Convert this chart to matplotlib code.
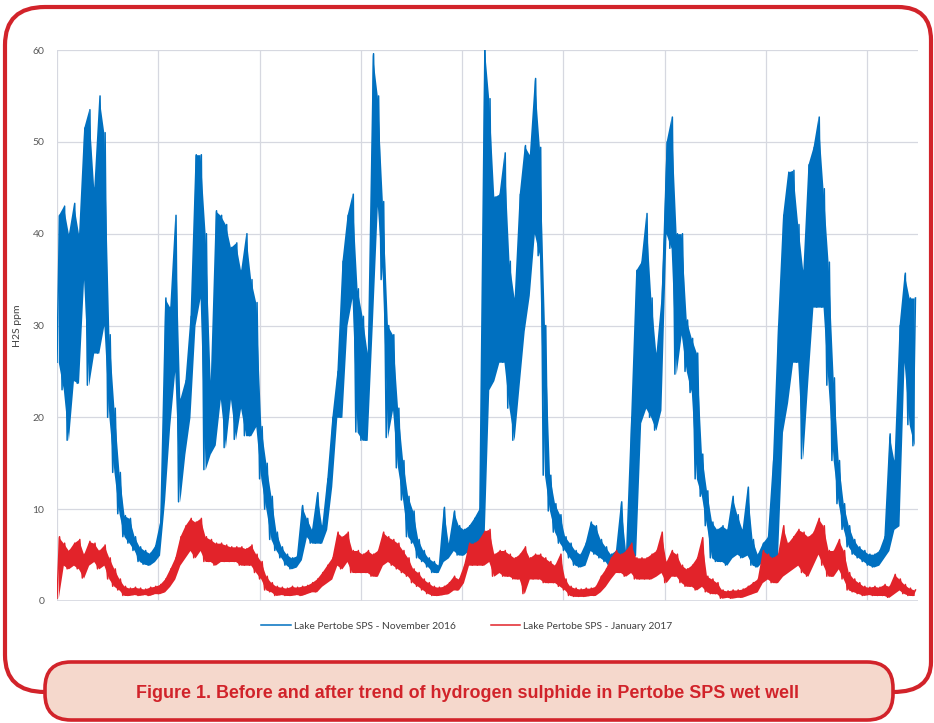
import numpy as np
import matplotlib
matplotlib.use("Agg")
import matplotlib.pyplot as plt
from matplotlib.path import Path
from matplotlib.patches import PathPatch, FancyBboxPatch
from matplotlib.transforms import Affine2D

# readings every 0.05 day: (low, high) of the noisy band
nov_low = [26, 23, 17.5, 24, 23.7, 35, 23.5, 27, 27, 30,
           20, 14, 9.5, 7, 6.3, 5.5, 4.3, 4, 3.9, 4.3,
           5, 11, 19, 25, 10.8, 16, 20, 30, 33, 14.3,
           16, 17, 22, 16.7, 22, 17.6, 21, 18, 18, 19,
           13.3, 10, 6.7, 5.5, 4.7, 3.9, 3.5, 3.7, 4.5, 7,
           6.3, 6.3, 6.3, 7.8, 12.5, 20, 20, 30, 33, 18.4,
           17.5, 17.5, 30, 43, 35, 17.8, 20.8, 14.5, 11, 7,
           6.3, 4.7, 4.3, 3.7, 3.1, 3.1, 4.3, 4.7, 5.5, 5,
           5, 5.5, 5.5, 5.5, 5.5, 23, 24, 26, 26, 21,
           17.5, 23.5, 29.4, 33.3, 40, 37.6, 13.7, 9.8, 7.5, 6.3,
           5.5, 4.7, 3.9, 3.7, 3.9, 5.5, 5.1, 4.7, 4.3, 3.5,
           3.9, 4.3, 3.9, 4.3, 5, 19.4, 21, 20, 18.6, 20.8,
           40, 38.4, 24.7, 29, 25, 22.7, 13.3, 11.4, 8.2, 4.7,
           4.3, 4.3, 3.9, 4.7, 5.1, 4.7, 5, 3.9, 3.7, 4.3,
           4.3, 4.3, 4.7, 18.4, 21.6, 26, 26, 15.5, 24, 32,
           32, 32, 23.5, 15.3, 10.6, 7.8, 5.9, 5.1, 4.7, 4.3,
           3.9, 3.7, 3.9, 4.7, 5.5, 7.8, 8.2, 26, 19.2, 16.9]
nov_high = [42, 43, 40, 43.3, 40, 51.5, 53.5, 45, 55, 51,
            29, 21, 14, 9.3, 9, 7, 5.9, 5.5, 5.2, 6,
            8.6, 33, 32, 42, 22, 24, 31, 48.6, 48.6, 40,
            24, 42.5, 42, 41, 38.5, 39, 36, 40, 35, 32.5,
            19, 15, 11.4, 7.5, 5.9, 5.1, 4.7, 4.9, 10.4, 9,
            7.8, 11.8, 8.2, 13.3, 20, 25, 37, 42, 44.3, 34,
            31, 27, 59.6, 55, 43.5, 30, 29, 21, 15.3, 11.4,
            9.8, 6.7, 5.5, 4.7, 4.3, 3.9, 10.2, 6.3, 9.8, 8.2,
            7.8, 8.2, 9, 10, 61, 54.7, 44, 44.3, 48.8, 37,
            33, 44.3, 49.6, 48.6, 56.9, 49.4, 30, 13.7, 10.6, 9.4,
            7, 6.3, 5.5, 5.1, 6.3, 8.6, 8.2, 6.7, 5.9, 5.1,
            5.5, 10.8, 5.5, 20, 36, 36.9, 42.2, 33, 27, 33,
            50, 52.7, 40, 40, 30.6, 28.6, 27, 16, 12, 8.6,
            7.8, 8.2, 7.8, 11.4, 9.4, 7.8, 12.4, 6.7, 5.1, 6.3,
            7, 15.3, 30, 42, 46.7, 46.9, 41, 36, 47.5, 49.4,
            52.7, 44.9, 36.9, 24.3, 15.3, 10.6, 8.2, 6.7, 5.9, 5.5,
            5.1, 5.1, 5.5, 7, 18.2, 15.3, 30, 35.7, 33, 33]

jan_low = [0.3, 3.9, 3.5, 3.9, 3.5, 2.5, 3.9, 4.3, 3.5, 3.9,
           2.4, 1.6, 1.2, 0.6, 0.6, 0.7, 0.6, 0.7, 0.6, 0.8,
           0.8, 1, 1.6, 2.4, 3.9, 4.7, 5.5, 4.7, 5.5, 4.3,
           4.3, 3.9, 4.3, 4.3, 4.3, 4.3, 3.9, 3.9, 3.9, 3.1,
           2.4, 1.2, 1, 0.6, 0.7, 0.6, 0.6, 0.7, 0.6, 0.8,
           1, 1, 1.6, 2, 2.4, 3.9, 3.5, 4.3, 3.1, 3.1,
           3.1, 3.1, 2.7, 2.7, 3.9, 4.3, 3.9, 3.5, 3.1, 2.7,
           2, 1.6, 1.2, 0.8, 0.6, 0.6, 0.7, 0.8, 1.2, 1.2,
           2, 3.9, 3.9, 3.9, 3.9, 4.3, 2.7, 3.1, 2.7, 2.7,
           2.4, 2.4, 0.8, 2.4, 2.4, 2.4, 2, 2, 2, 1.6,
           1.2, 0.6, 0.5, 0.5, 0.5, 0.6, 0.6, 1, 1.6, 2.4,
           3.1, 3.1, 2.7, 3.1, 2.4, 2.4, 2.4, 2.4, 2.7, 3.1,
           2, 2.7, 2.7, 2, 1.6, 1.6, 1.2, 1.6, 1, 0.8,
           0.8, 0.3, 0.4, 0.3, 0.4, 0.4, 0.6, 0.8, 1, 2,
           2.4, 2, 2, 2.7, 3.1, 3.5, 3.9, 3.1, 2.7, 3.9,
           5.1, 3.9, 2.7, 2.7, 3.5, 2.4, 1.2, 1, 0.8, 0.6,
           0.7, 0.6, 0.6, 0.6, 0.4, 0.8, 1.2, 0.8, 0.6, 0.6]
jan_high = [7, 6.3, 5.5, 6.3, 6.7, 5.1, 6.5, 6.3, 5.5, 6.1,
            4.7, 3.5, 2.4, 1.6, 1.4, 1.5, 1.4, 1.3, 1.5, 1.6,
            1.8, 2.4, 3.5, 4.7, 7, 8.2, 9, 8.6, 9, 7,
            6.7, 6.3, 6.3, 6.1, 5.9, 5.9, 5.9, 5.7, 6.1, 5.1,
            4.3, 2.7, 2, 1.6, 1.5, 1.4, 1.6, 1.5, 1.6, 1.7,
            2, 2.4, 3.1, 3.9, 4.7, 7.5, 7, 7.5, 5.5, 5.5,
            5.1, 5.5, 5.1, 5.5, 7.5, 7, 6.7, 6.3, 5.5, 4.7,
            3.5, 3.1, 2.4, 2, 1.6, 1.5, 1.6, 2, 2.7, 2.4,
            3.9, 6.3, 6.3, 6.7, 7.6, 7.8, 5.1, 5.5, 5.5, 5.1,
            4.7, 5.1, 5.9, 4.7, 5.1, 5.1, 4.7, 4.3, 3.9, 5.1,
            2.4, 1.6, 1.4, 1.3, 1.4, 1.4, 1.6, 2.7, 3.5, 4.7,
            5.5, 5.1, 5.5, 6.3, 4.7, 4.7, 4.7, 5.1, 5.5, 7.5,
            4.3, 5.5, 5.1, 3.9, 3.5, 3.9, 4.7, 6.9, 2.7, 2.4,
            2, 1.2, 1.1, 1.2, 1.2, 1.3, 1.6, 2, 2.4, 5.5,
            5.1, 4.7, 5.1, 8.2, 6.3, 7, 7.8, 7.5, 7, 7.5,
            9, 8.2, 5.5, 5.5, 6.7, 5.5, 3.1, 2.4, 2, 1.6,
            1.5, 1.6, 1.5, 1.8, 1.6, 2.9, 2.4, 1.8, 1.4, 1.2]

y_ticks = [0, 10, 20, 30, 40, 50, 60]
legend_labels = ["Lake Pertobe SPS - November 2016", "Lake Pertobe SPS - January 2017"]
caption = "Figure 1. Before and after trend of hydrogen sulphide in Pertobe SPS wet well"

blue = "#0070c0"
red = "#e2232a"
frame_red = "#d2232a"
plt.rcParams["font.family"] = ["Lato", "DejaVu Sans"]

W, H = 934, 723
fig = plt.figure(figsize=(W / 100, H / 100), dpi=100)
# pixel coords measured from top-left
px = Affine2D().scale(1 / 100, -1 / 100).translate(0, H / 100) + fig.dpi_scale_trans

ax = fig.add_axes([57 / W, 1 - 601 / H, (918 - 57) / W, (601 - 50) / H])


def draw_band(low, high, color, label, z, step=0.05):
    d = np.arange(len(low)) * step
    x = np.column_stack([d, d + step / 2]).ravel()
    y = np.column_stack([low, high]).ravel()
    ax.fill_between(d + step / 4, low, high, color=color, lw=0, zorder=z)
    ax.plot(x, y, color=color, lw=1.1, label=label, zorder=z)


draw_band(nov_low, nov_high, blue, legend_labels[0], 3)
draw_band(jan_low, jan_high, red, legend_labels[1], 4)

ax.set_xlim(0, 8.5)
ax.set_ylim(0, 60)
ax.set_yticks(y_ticks)
ax.set_xticks(range(0, 9))
ax.set_xticklabels([])
ax.tick_params(length=0, labelsize=7.5, labelcolor="#595959", pad=9)
ax.grid(True, color="#d6d8e0", lw=0.9)
ax.set_axisbelow(True)
for s in ax.spines.values():
    s.set_visible(False)
ax.axhline(0, color="#d6d8e0", lw=1.2, zorder=1)
ax.set_ylabel("H2S ppm", fontsize=7.5, color="#404040")
ax.yaxis.set_label_coords(-(57 - 22) / (918 - 57), 0.5)

leg = fig.legend(loc="center", bbox_to_anchor=(0.5, 1 - 626 / H), ncol=2,
                 frameon=False, fontsize=7.35, handlelength=2.9, columnspacing=3.4,
                 handletextpad=0.3)
for t in leg.get_texts():
    t.set_color("#404040")

# outer red frame
verts = [(45, 692), (5, 692), (5, 655), (5, 45), (5, 7), (45, 7),
         (898, 7), (931, 7), (931, 40), (931, 662), (931, 692), (893, 692)]
codes = [Path.MOVETO, Path.CURVE3, Path.CURVE3, Path.LINETO, Path.CURVE3, Path.CURVE3,
         Path.LINETO, Path.CURVE3, Path.CURVE3, Path.LINETO, Path.CURVE3, Path.CURVE3]
fig.patches.append(PathPatch(Path(verts, codes), transform=px, fill=False,
                             edgecolor=frame_red, lw=3))

# caption box
box = FancyBboxPatch((45, 662), 848, 58, boxstyle="round,pad=0,rounding_size=26",
                     transform=px, facecolor="#f5d8cc", edgecolor=frame_red, lw=2.6)
fig.patches.append(box)
fig.text(468 / W, 1 - 693 / H, caption, ha="center", va="center", fontsize=12.9,
         fontweight="bold", color="#d1232a",
         family=["Liberation Sans", "DejaVu Sans"])

fig.savefig("out.png", dpi=100)
